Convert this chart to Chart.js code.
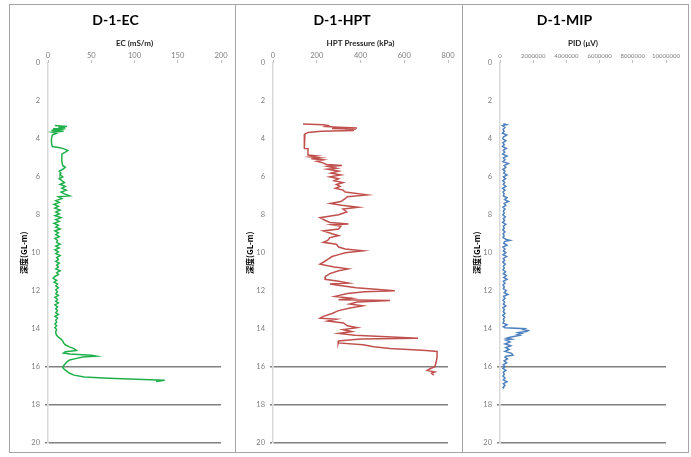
<!DOCTYPE html>
<html>
<head>
<meta charset="utf-8">
<script src="https://cdn.jsdelivr.net/npm/chart.js@4.4.1/dist/chart.umd.min.js"></script>
<style>
  body { margin: 0; background: #fff; }
  .panel { position: absolute; top: 4px; height: 449px; border: 1px solid #a6a6a6; box-sizing: border-box; }
  .panel canvas { position: absolute; top: 0; left: 0; }
</style>
</head>
<body>
<div class="panel" style="left:9px;width:227px"><canvas id="ec-chart" width="225" height="447"></canvas></div>
<div class="panel" style="left:235px;width:228px"><canvas id="hpt-chart" width="226" height="447"></canvas></div>
<div class="panel" style="left:462px;width:227px"><canvas id="mip-chart" width="225" height="447"></canvas></div>
<script>
const depthTicks = [0, 2, 4, 6, 8, 10, 12, 14, 16, 18, 20];
const gridDepths = [16, 18, 20];
const ecTicks = [0, 50, 100, 150, 200];
const hptTicks = [0, 200, 400, 600, 800];
const mipTicks = [0, 2000000, 4000000, 6000000, 8000000, 10000000];

// EC (mS/m) by depth
const ecDepth = [
  3.30, 3.34, 3.38, 3.42, 3.46, 3.50, 3.55, 3.60, 3.65, 3.70,
  3.80, 4.00, 4.20, 4.40, 4.45, 4.50, 4.55, 4.62, 4.70, 4.80,
  4.90, 5.00, 5.20, 5.40, 5.50, 5.60, 5.70, 5.80, 5.90, 6.00,
  6.10, 6.20, 6.30, 6.40, 6.50, 6.60, 6.70, 6.80, 6.90, 7.00,
  7.05, 7.15, 7.25, 7.35, 7.45, 7.55, 7.65, 7.75, 7.85, 7.95,
  8.05, 8.15, 8.25, 8.35, 8.45, 8.55, 8.65, 8.75, 8.85, 8.95,
  9.05, 9.15, 9.25, 9.35, 9.45, 9.55, 9.65, 9.75, 9.85, 9.95,
  10.05, 10.15, 10.25, 10.35, 10.45, 10.55, 10.65, 10.75, 10.85, 10.95,
  11.05, 11.15, 11.25, 11.35, 11.45, 11.55, 11.65, 11.75, 11.85, 11.95,
  12.05, 12.15, 12.25, 12.35, 12.45, 12.55, 12.65, 12.75, 12.85, 12.95,
  13.05, 13.15, 13.25, 13.35, 13.45, 13.55, 13.65, 13.75, 13.85, 13.95,
  14.05, 14.15, 14.25, 14.35, 14.45, 14.55, 14.65, 14.75, 14.85, 14.95,
  15.05, 15.15, 15.22, 15.28, 15.33, 15.40, 15.45, 15.50, 15.58, 15.65,
  15.75, 15.85, 15.95, 16.05, 16.15, 16.25, 16.35, 16.45, 16.55, 16.62,
  16.68, 16.72, 16.78
];
const ecValue = [
  8, 22, 12, 20, 6, 14, 4, 18, 5, 10,
  5, 4, 4, 5, 12, 17, 20, 23, 20, 16,
  16, 16, 16, 17, 20, 17, 13, 15, 14, 17,
  13, 16, 19, 14, 20, 16, 21, 15, 19, 25,
  12, 16, 9, 13, 7, 12, 8, 14, 9, 13,
  8, 15, 9, 13, 7, 12, 9, 14, 8, 12,
  9, 13, 8, 11, 10, 14, 9, 13, 8, 12,
  9, 14, 10, 12, 9, 13, 10, 12, 9, 14,
  10, 12, 8, 6, 10, 7, 11, 9, 12, 9,
  11, 9, 12, 8, 11, 9, 12, 8, 11, 9,
  11, 9, 12, 8, 11, 9, 10, 8, 10, 8,
  10, 9, 9, 10, 12, 15, 17, 18, 20, 24,
  30, 33, 20, 18, 25, 50, 56, 40, 32, 25,
  22, 20, 18, 17, 19, 22, 25, 30, 42, 70,
  110, 135, 125
];

// HPT pressure (kPa) by depth
const hptDepth = [
  3.22, 3.24, 3.26, 3.30, 3.34, 3.38, 3.42, 3.45, 3.48, 3.52,
  3.56, 3.60, 3.66, 3.74, 3.90, 4.10, 4.30, 4.50, 4.52, 4.70,
  4.85, 4.90, 4.95, 5.00, 5.05, 5.10, 5.18, 5.25, 5.35, 5.40,
  5.45, 5.55, 5.60, 5.70, 5.80, 5.90, 6.00, 6.10, 6.20, 6.30,
  6.40, 6.50, 6.60, 6.70, 6.80, 6.95, 7.05, 7.15, 7.30, 7.40,
  7.50, 7.60, 7.70, 7.85, 8.00, 8.15, 8.30, 8.40, 8.48, 8.52,
  8.60, 8.75, 8.85, 9.00, 9.10, 9.20, 9.35, 9.45, 9.55, 9.70,
  9.80, 9.90, 10.00, 10.10, 10.20, 10.35, 10.50, 10.60, 10.75, 10.85,
  10.95, 11.10, 11.25, 11.40, 11.50, 11.60, 11.65, 11.70, 11.85, 12.00,
  12.05, 12.15, 12.30, 12.40, 12.48, 12.52, 12.60, 12.70, 12.80, 12.90,
  13.05, 13.20, 13.35, 13.45, 13.50, 13.60, 13.70, 13.85, 13.95, 14.05,
  14.15, 14.25, 14.35, 14.50, 14.55, 14.65, 14.75, 14.85, 14.95, 15.05,
  15.15, 15.20, 15.50, 15.80, 16.00, 16.10, 16.20, 16.28, 16.35, 16.45
];
const hptValue = [
  137, 200, 230, 250, 240, 300, 384, 270, 380, 330,
  370, 220, 160, 146, 143, 142, 143, 145, 160, 160,
  160, 200, 170, 215, 175, 230, 200, 225, 245, 315,
  250, 290, 250, 300, 265, 310, 260, 300, 280, 320,
  290, 306, 285, 320, 330, 430, 340, 330, 310, 262,
  314, 390, 320, 337, 300, 215, 240, 260, 345, 270,
  310, 300, 230, 270, 300, 260, 250, 230, 290, 300,
  330, 412, 330, 300, 270, 250, 230, 215, 280, 344,
  300, 260, 240, 238, 300, 345, 260, 290, 380, 557,
  420, 340, 283, 360, 300, 535, 385, 350, 410, 358,
  300, 270, 230, 215, 290, 250, 322, 340, 385, 320,
  360, 300, 375, 663, 400, 300, 298, 412, 460, 535,
  700, 750, 750, 745, 740, 720, 705, 740, 725, 735
];

// MIP PID (uV) by depth
const mipDepth = [
  3.20, 3.25, 3.30, 3.40, 3.50, 3.60, 3.70, 3.80, 3.90, 4.00,
  4.10, 4.20, 4.30, 4.40, 4.50, 4.60, 4.70, 4.80, 4.90, 5.00,
  5.10, 5.20, 5.30, 5.40, 5.50, 5.60, 5.70, 5.80, 5.90, 6.00,
  6.10, 6.20, 6.30, 6.40, 6.50, 6.60, 6.70, 6.80, 6.90, 7.00,
  7.10, 7.20, 7.30, 7.40, 7.50, 7.60, 7.70, 7.80, 7.90, 8.00,
  8.10, 8.20, 8.30, 8.40, 8.50, 8.60, 8.70, 8.80, 8.90, 9.00,
  9.10, 9.20, 9.30, 9.35, 9.40, 9.50, 9.60, 9.70, 9.80, 9.90, 10.00,
  10.10, 10.20, 10.30, 10.40, 10.50, 10.60, 10.70, 10.80, 10.90, 11.00,
  11.10, 11.20, 11.30, 11.40, 11.50, 11.60, 11.70, 11.80, 11.90, 12.00,
  12.10, 12.20, 12.30, 12.40, 12.50, 12.60, 12.70, 12.80, 12.90, 13.00,
  13.10, 13.20, 13.30, 13.40, 13.50, 13.60, 13.70, 13.80, 13.90, 13.95,
  14.00, 14.05, 14.10, 14.15, 14.20, 14.25, 14.30, 14.35, 14.40, 14.45,
  14.50, 14.55, 14.60, 14.70, 14.80, 14.90, 15.00, 15.10, 15.20, 15.30,
  15.40, 15.45, 15.50, 15.60, 15.70, 15.80, 15.90, 16.00, 16.10, 16.20,
  16.30, 16.40, 16.50, 16.60, 16.70, 16.80, 16.90, 17.00, 17.10, 17.15
];
const mipValue = [
  200000, 400000, 150000, 300000, 180000, 250000, 150000, 400000, 200000, 180000,
  350000, 170000, 260000, 150000, 380000, 200000, 280000, 160000, 420000, 200000,
  300000, 180000, 500000, 250000, 350000, 180000, 300000, 220000, 420000, 200000,
  330000, 170000, 280000, 200000, 350000, 160000, 300000, 180000, 250000, 200000,
  420000, 280000, 520000, 250000, 350000, 180000, 300000, 200000, 260000, 170000,
  320000, 200000, 280000, 160000, 350000, 200000, 260000, 170000, 300000, 190000,
  250000, 180000, 380000, 600000, 300000, 220000, 420000, 180000, 300000, 200000, 350000,
  180000, 400000, 200000, 280000, 170000, 320000, 200000, 260000, 180000, 330000,
  200000, 380000, 220000, 420000, 200000, 300000, 180000, 260000, 200000, 380000,
  250000, 480000, 220000, 300000, 180000, 280000, 200000, 350000, 180000, 260000,
  200000, 300000, 170000, 280000, 200000, 250000, 180000, 420000, 200000, 300000,
  1500000, 1400000, 1700000, 1600000, 1100000, 1300000, 1050000, 1200000, 900000, 600000,
  400000, 700000, 350000, 600000, 300000, 650000, 350000, 550000, 300000, 700000,
  780000, 350000, 300000, 450000, 250000, 400000, 200000, 300000, 180000, 350000,
  200000, 260000, 180000, 300000, 200000, 420000, 200000, 300000, 180000, 250000
];

function depthConfig(title, axisTitle, depths, values, color, xTicks, xTickSize, padRight, yWidth) {
  const points = depths.map((d, i) => ({ x: values[i], y: d }));
  return {
    type: "scatter",
    data: {
      datasets: [
        {
          data: points,
          showLine: true,
          borderColor: color,
          borderWidth: 1.5,
          pointRadius: 0,
          tension: 0,
        },
      ],
    },
    options: {
      responsive: false,
      animation: false,
      layout: { padding: { top: 7, right: padRight, bottom: 4, left: 0 } },
      plugins: {
        legend: { display: false },
        tooltip: { enabled: false },
        title: {
          display: true,
          text: title,
          color: "#000",
          padding: 0,
          font: { family: "Lato", size: 14, weight: "bold", lineHeight: 1.2 },
        },
      },
      scales: {
        x: {
          type: "linear",
          position: "top",
          min: xTicks[0],
          max: xTicks[xTicks.length - 1],
          afterBuildTicks: (s) => { s.ticks = xTicks.map((v) => ({ value: v })); },
          afterFit: (s) => { s.height = 34.2; },
          border: { display: false },
          grid: { drawOnChartArea: false, tickLength: 3, color: "#bfbfbf" },
          ticks: {
            padding: 0,
            color: "#7f7f7f",
            font: { family: "Lato", size: xTickSize },
            maxRotation: 0,
            autoSkip: false,
            callback: (v) => String(v),
          },
          title: {
            display: true,
            text: axisTitle,
            color: "#262626",
            padding: { top: 10, bottom: 0 },
            font: { family: "Lato", size: 8, weight: "bold" },
          },
        },
        y: {
          type: "linear",
          reverse: true,
          min: 0,
          max: 20,
          afterBuildTicks: (s) => { s.ticks = depthTicks.map((v) => ({ value: v })); },
          afterFit: (s) => { s.width = yWidth; },
          border: { display: true, color: "#d9d9d9", width: 1.5 },
          grid: {
            color: (c) => (c.tick && gridDepths.includes(c.tick.value) ? "#808080" : "rgba(0,0,0,0)"),
            lineWidth: 1.5,
            tickLength: 3,
          },
          ticks: { padding: 5, color: "#7f7f7f", font: { family: "Lato", size: 7.5 } },
          title: {
            display: true,
            text: "深度(GL-m)",
            color: "#000",
            padding: { top: 9, bottom: 0 },
            font: { family: "'Noto Sans CJK JP'", size: 8, weight: "bold" },
          },
        },
      },
    },
  };
}

const ecCanvas = document.getElementById("ec-chart").getContext("2d");
const hptCanvas = document.getElementById("hpt-chart").getContext("2d");
const mipCanvas = document.getElementById("mip-chart").getContext("2d");

new Chart(ecCanvas, depthConfig("D-1-EC", "EC (mS/m)", ecDepth, ecValue, "#1fb04b", ecTicks, 7.5, 14, 38));
new Chart(hptCanvas, depthConfig("D-1-HPT", "HPT Pressure (kPa)", hptDepth, hptValue, "#c0504d", hptTicks, 7.5, 14, 37));
new Chart(mipCanvas, depthConfig("D-1-MIP", "PID (μV)", mipDepth, mipValue, "#4f81bd", mipTicks, 6, 22, 37));
</script>
</body>
</html>
